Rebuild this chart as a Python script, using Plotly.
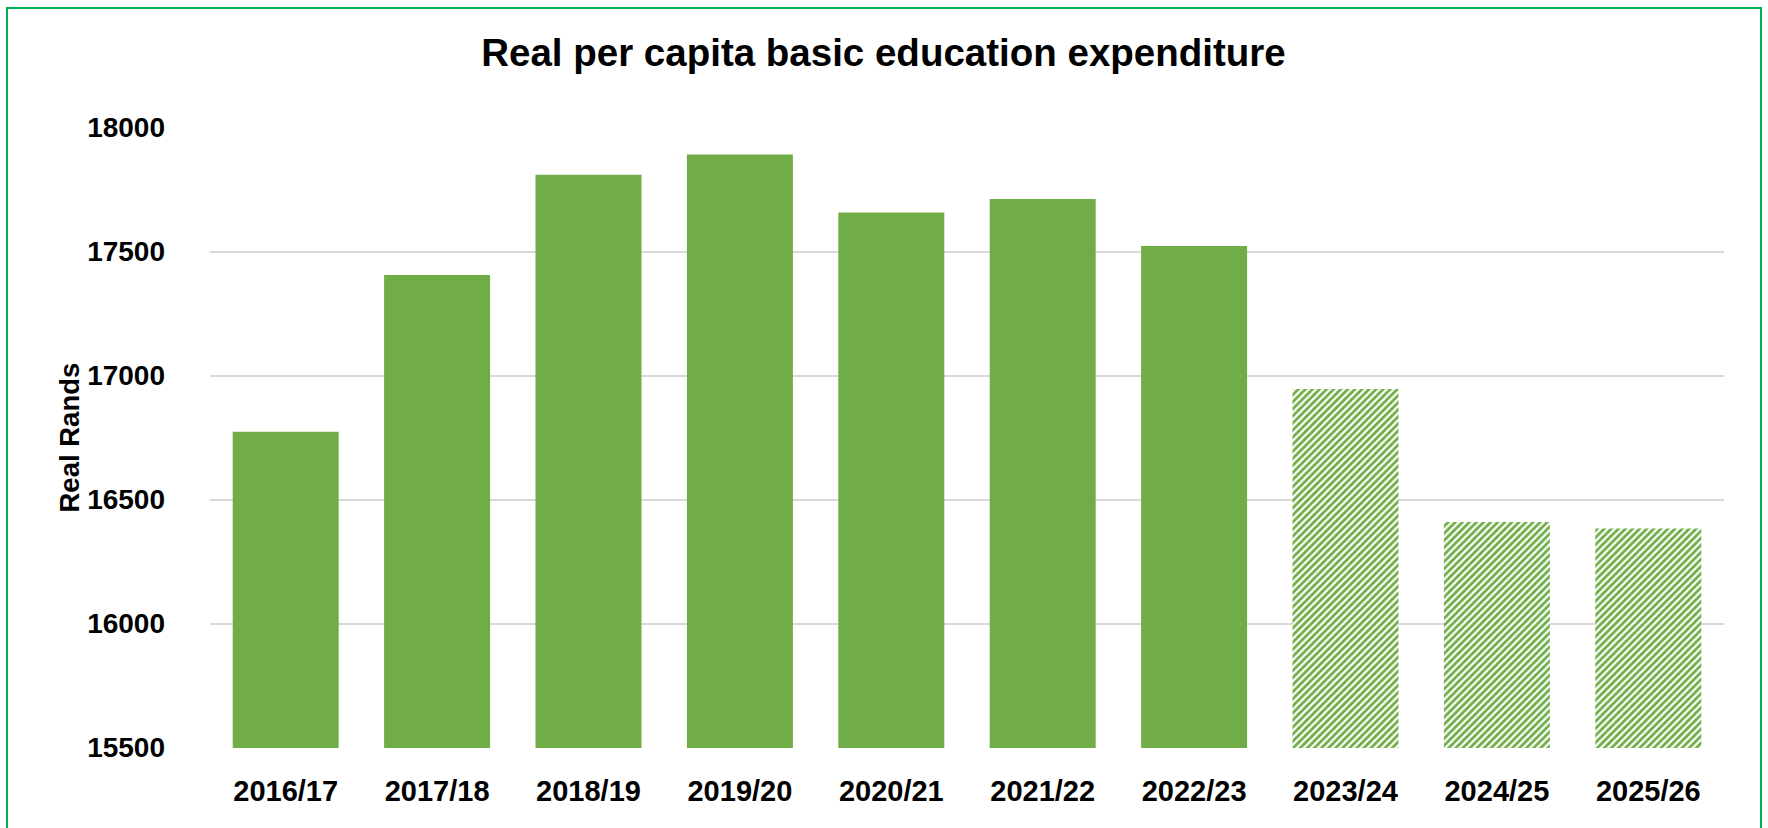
import plotly.graph_objects as go

# Financial years and real per-capita spending (Rands)
years = ["2016/17", "2017/18", "2018/19", "2019/20", "2020/21",
         "2021/22", "2022/23", "2023/24", "2024/25", "2025/26"]
spend = [16773, 17405, 17809, 17891, 17657, 17712, 17522, 16946, 16409, 16383]
# Medium-term estimates (drawn hatched)
projected = [False, False, False, False, False, False, False, True, True, True]

y_ticks = [15500, 16000, 16500, 17000, 17500, 18000]

GREEN = "#70AD47"
FONT = "Liberation Sans"

W, H = 1768, 828
ML, MR, MT, MB = 210, 44, 127, 80
PW, PH = W - ML - MR, H - MT - MB

fig = go.Figure(
    go.Bar(
        x=years,
        y=spend,
        marker=dict(
            color=GREEN,
            line=dict(width=0),
            pattern=dict(
                shape=["/" if p else "" for p in projected],
                fgcolor=GREEN,
                bgcolor="white",
                size=5,
                solidity=0.55,
                fillmode="replace",
            ),
        ),
        hoverinfo="skip",
    )
)

fig.update_layout(
    width=W,
    height=H,
    margin=dict(l=ML, r=MR, t=MT, b=MB, pad=0),
    paper_bgcolor="white",
    plot_bgcolor="white",
    bargap=0.3,
    showlegend=False,
    title=dict(
        text="<b>Real per capita basic education expenditure</b>",
        font=dict(family=FONT, size=38.5, color="black"),
        xref="container",
        x=0.4997,
        xanchor="center",
        yref="container",
        y=1 - 53 / H,
        yanchor="middle",
    ),
    font=dict(family=FONT, color="black"),
)

fig.update_xaxes(
    type="category",
    showgrid=False,
    showline=False,
    ticks="",
    tickfont=dict(family=FONT, size=29, color="black", weight="bold"),
    ticklabelstandoff=23,
)

fig.update_yaxes(
    range=[15498, 18002],
    tickvals=y_ticks,
    ticktext=[str(v) for v in y_ticks],
    showgrid=True,
    gridcolor="#D9D9D9",
    gridwidth=1.5,
    zeroline=False,
    showline=False,
    ticks="",
    tickfont=dict(family=FONT, size=28, color="black", weight="bold"),
    ticklabelstandoff=44,
)

# Vertical axis title
fig.add_annotation(
    text="<b>Real Rands</b>",
    xref="paper",
    yref="paper",
    x=(69 - ML) / PW,
    y=0.5,
    xanchor="center",
    yanchor="middle",
    textangle=-90,
    showarrow=False,
    font=dict(family=FONT, size=27.5, color="black"),
)

# Green frame around the whole chart
fig.add_shape(
    type="rect",
    xref="paper",
    yref="paper",
    x0=(7 - ML) / PW,
    x1=(1761 - ML) / PW,
    y0=(MB + 8) / -PH,
    y1=(H - 8 - MB) / PH,
    line=dict(color="#00B050", width=2),
    fillcolor="rgba(0,0,0,0)",
    layer="above",
)

fig.write_html("out.html")
